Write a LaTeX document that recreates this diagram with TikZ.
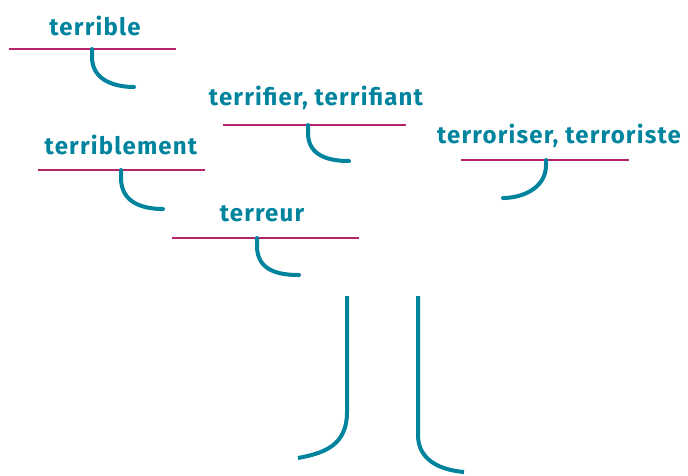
\documentclass[tikz,border=0pt]{standalone}
\usepackage{fontspec}
\setmainfont{Fira Sans}
\newfontfamily\wordfont[LetterSpace=5]{Fira Sans}
\definecolor{teal}{RGB}{0,132,158}
\definecolor{rule}{RGB}{181,35,106}
\begin{document}
\begin{tikzpicture}[x=1pt,y=-1pt,
  word/.style={text=teal,font=\wordfont\bfseries\fontsize{24}{28}\selectfont,inner sep=0pt,anchor=base},
  baseline/.style={draw=rule,line width=2pt},
  hook/.style={draw=teal,line width=4pt,line cap=round}]
\useasboundingbox (0,0) rectangle (688,475);
% terrible
\node[word] (w1) at (95,35) {terrible};
\coordinate (a1) at (9,49); \coordinate (b1) at (176,49);
\draw[baseline] (a1) -- (b1);
\coordinate (h1) at (92,49);
\draw[hook] (h1) -- ++(0,8) .. controls +(0,24) and +(-18,0) .. (134,87);
% terrifier
\node[word] (w2) at (316,105) {terrifier, terrifiant};
\coordinate (a2) at (223,125); \coordinate (b2) at (406,125);
\draw[baseline] (a2) -- (b2);
\coordinate (h2) at (308,125);
\draw[hook] (h2) -- ++(0,8) .. controls +(0,24) and +(-18,0) .. (349,161);
% terriblement
\node[word] (w3) at (121,154) {terriblement};
\coordinate (a3) at (38,170); \coordinate (b3) at (205,170);
\draw[baseline] (a3) -- (b3);
\coordinate (h3) at (121,170);
\draw[hook] (h3) -- ++(0,8) .. controls +(0,26) and +(-18,0) .. (163,209);
% terroriser
\node[word] (w4) at (559,143) {terroriser, terroriste};
\coordinate (a4) at (461,160); \coordinate (b4) at (629,160);
\draw[baseline] (a4) -- (b4);
\coordinate (h4) at (546,160);
\draw[hook] (h4) -- ++(0,5) .. controls +(0,24) and +(18,0) .. (503,198);
% terreur
\node[word] (w5) at (262,221) {terreur};
\coordinate (a5) at (172,238); \coordinate (b5) at (359,238);
\draw[baseline] (a5) -- (b5);
\coordinate (h5) at (257,238);
\draw[hook] (h5) -- ++(0,8) .. controls +(0,26) and +(-18,0) .. (299,275);
% trunk
\coordinate (t1) at (347,296); \coordinate (t1e) at (298,458);
\coordinate (t2) at (418,296); \coordinate (t2e) at (464,472);
\draw[hook,line cap=butt] (t1) -- (347,412) .. controls (347,445) and (325,453) .. (t1e);
\draw[hook,line cap=butt] (t2) -- (418,435) .. controls (418,460) and (440,470) .. (t2e);
\end{tikzpicture}
\end{document}
